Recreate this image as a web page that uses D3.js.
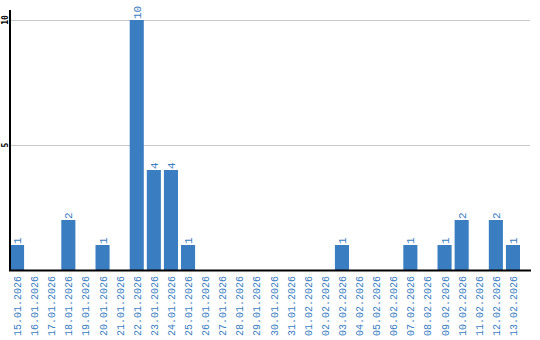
<!DOCTYPE html>
<html>
<head>
<meta charset="utf-8">
<script src="https://cdn.jsdelivr.net/npm/d3@7"></script>
<style>
  body { margin: 0; background: #fff; }
</style>
</head>
<body>
<div id="chart"></div>
<script>
// dates shown on the x axis
const dates = ["15.01.2026", "16.01.2026", "17.01.2026", "18.01.2026", "19.01.2026", "20.01.2026",
    "21.01.2026", "22.01.2026", "23.01.2026", "24.01.2026", "25.01.2026", "26.01.2026",
    "27.01.2026", "28.01.2026", "29.01.2026", "30.01.2026", "31.01.2026", "01.02.2026",
    "02.02.2026", "03.02.2026", "04.02.2026", "05.02.2026", "06.02.2026", "07.02.2026",
    "08.02.2026", "09.02.2026", "10.02.2026", "11.02.2026", "12.02.2026", "13.02.2026"];
const counts = [1, 0, 0, 2, 0, 1, 0, 10, 4, 4, 1, 0, 0, 0, 0, 0, 0, 0, 0, 1, 0, 0, 0, 1, 0, 1, 2, 0, 2, 1];
const yTicks = [5, 10];

const blue = "#3a7dc1";
const width = 540, height = 340;

const svg = d3.select("#chart")
    .append("svg")
    .attr("width", width)
    .attr("height", height);

const x = d3.scaleBand()
    .domain(dates)
    .range([10, 520])
    .paddingInner(3 / 17)
    .paddingOuter(0)
    .align(0);

const y = d3.scaleLinear()
    .domain([0, 10])
    .range([270, 20]);

// grid lines
svg.selectAll(".grid")
    .data(yTicks)
    .enter().append("line")
    .attr("x1", 10)
    .attr("x2", 530)
    .attr("y1", d => y(d) + 0.5)
    .attr("y2", d => y(d) + 0.5)
    .attr("stroke", "#c8c8c8")
    .attr("stroke-width", 1);

// y tick labels
svg.selectAll(".ylab")
    .data(yTicks)
    .enter().append("text")
    .attr("transform", d => `translate(7.5,${y(d)}) rotate(-90)`)
    .attr("text-anchor", "middle")
    .attr("font-family", "DejaVu Sans Mono")
    .attr("font-size", 8)
    .attr("font-weight", "bold")
    .attr("fill", "#000")
    .text(d => d);

// bars
const nonZero = dates.map((d, i) => ({date: d, value: counts[i]})).filter(d => d.value > 0);

svg.selectAll(".bar")
    .data(nonZero)
    .enter().append("rect")
    .attr("x", d => x(d.date))
    .attr("y", d => y(d.value))
    .attr("width", x.bandwidth())
    .attr("height", d => y(0) - y(d.value))
    .attr("fill", blue);

// value labels
svg.selectAll(".vlab")
    .data(nonZero)
    .enter().append("text")
    .attr("transform", d => `translate(${x(d.date) + x.bandwidth() / 2 + 4},${y(d.value) - 1}) rotate(-90)`)
    .attr("text-anchor", "start")
    .attr("font-family", "Liberation Mono")
    .attr("font-size", 11)
    .attr("fill", blue)
    .text(d => d.value);

// x labels
svg.selectAll(".xlab")
    .data(dates)
    .enter().append("text")
    .attr("transform", d => `translate(${x(d) + x.bandwidth() / 2 + 4},276) rotate(-90)`)
    .attr("text-anchor", "end")
    .attr("font-family", "Liberation Mono")
    .attr("font-size", 10)
    .attr("fill", blue)
    .text(d => d);

// axes lines
svg.append("line")
    .attr("x1", 10).attr("x2", 10)
    .attr("y1", 10).attr("y2", 271)
    .attr("stroke", "#000").attr("stroke-width", 2);

svg.append("line")
    .attr("x1", 9).attr("x2", 531)
    .attr("y1", 270.5).attr("y2", 270.5)
    .attr("stroke", "#000").attr("stroke-width", 2);
</script>
</body>
</html>
